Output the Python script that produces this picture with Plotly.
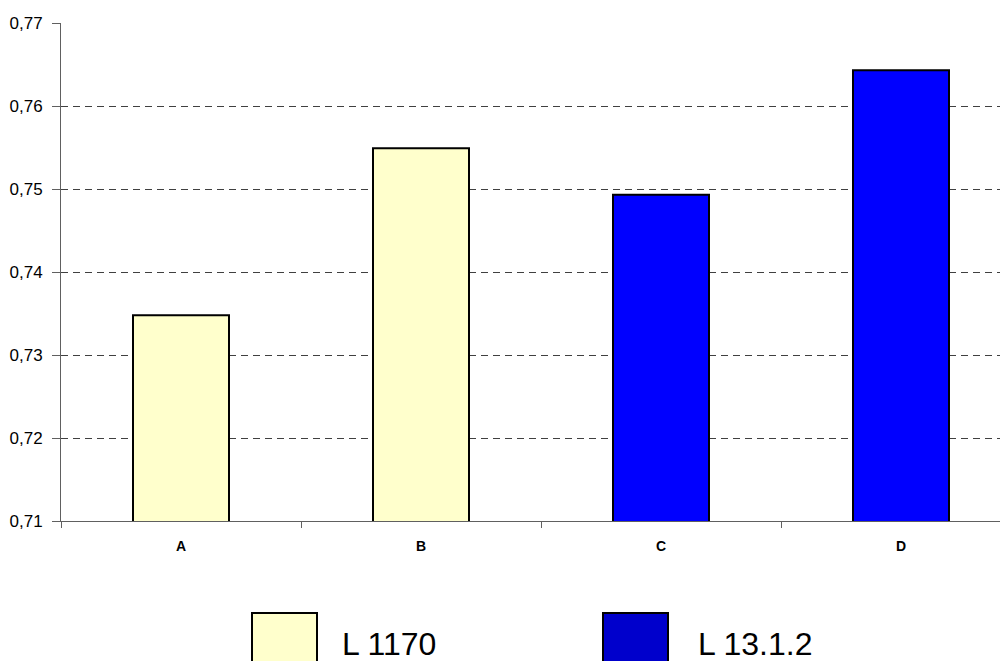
import plotly.graph_objects as go

categories = ["A", "B", "C", "D"]
series1_name = "L 1170"
series2_name = "L 13.1.2"
series1_cats = ["A", "B"]
series1_vals = [0.7348, 0.7549]
series2_cats = ["C", "D"]
series2_vals = [0.7493, 0.7643]
y_ticks = [0.71, 0.72, 0.73, 0.74, 0.75, 0.76, 0.77]

# page body has an 8px margin, compensate
OFF = 8
PAGE_W, PAGE_H = 1008, 661
W, H = PAGE_W - OFF, PAGE_H - OFF
PLOT_L, PLOT_T, PLOT_B = 61, 23, 521
ML, MT = PLOT_L - OFF, PLOT_T - OFF
MB = PAGE_H - PLOT_B
PW = W - ML
PH = PLOT_B - PLOT_T

def px_x(p):
    return (p - PLOT_L) / PW

def px_y(p):
    return (PLOT_B - p) / PH

fig = go.Figure()
fig.add_trace(go.Bar(x=series1_cats, y=series1_vals, name=series1_name,
                     marker=dict(color="#FFFFCC", line=dict(color="black", width=2))))
fig.add_trace(go.Bar(x=series2_cats, y=series2_vals, name=series2_name,
                     marker=dict(color="#0000FF", line=dict(color="black", width=2))))

font = "Liberation Sans, Arial, sans-serif"
fig.update_layout(
    width=W, height=H,
    margin=dict(l=ML, r=0, t=MT, b=MB, pad=0, autoexpand=False),
    plot_bgcolor="white", paper_bgcolor="white",
    separators=", ",
    showlegend=False,
    bargap=0.6,
    barmode="overlay",
    font=dict(family=font, color="black"),
)
span = PW / 240.0
fig.update_xaxes(
    type="category", categoryorder="array", categoryarray=categories,
    range=[-0.5, -0.5 + span],
    showline=True, linecolor="#606060", linewidth=1,
    ticks="outside", tickson="boundaries", ticklen=6, tickcolor="#606060",
    tickfont=dict(size=14, family=font, weight="bold"),
    ticklabelstandoff=12,
    showgrid=False, zeroline=False, automargin=False,
)
fig.update_yaxes(
    range=[0.71, 0.77], tickvals=y_ticks, tickformat=".2f",
    showline=True, linecolor="#606060", linewidth=1,
    ticks="outside", ticklen=8, tickcolor="#606060",
    tickfont=dict(size=17, family=font),
    ticklabelstandoff=6,
    showgrid=True, gridcolor="#404040", gridwidth=1, griddash="7px,5px",
    zeroline=False, automargin=False,
)

# legend drawn manually
legend_items = [(series1_name, "#FFFFCC", 252, 340), (series2_name, "#0000CC", 603, 696)]
for name, col, sx, tx in legend_items:
    fig.add_shape(type="rect", xref="paper", yref="paper",
                  x0=px_x(sx), x1=px_x(sx + 65), y0=px_y(613), y1=px_y(668),
                  fillcolor=col, line=dict(color="black", width=2), layer="above")
    fig.add_annotation(xref="paper", yref="paper", x=px_x(tx), y=px_y(644),
                       text=name, showarrow=False, xanchor="left", yanchor="middle",
                       font=dict(size=32, family=font, color="black"))

fig.write_html("out.html")
